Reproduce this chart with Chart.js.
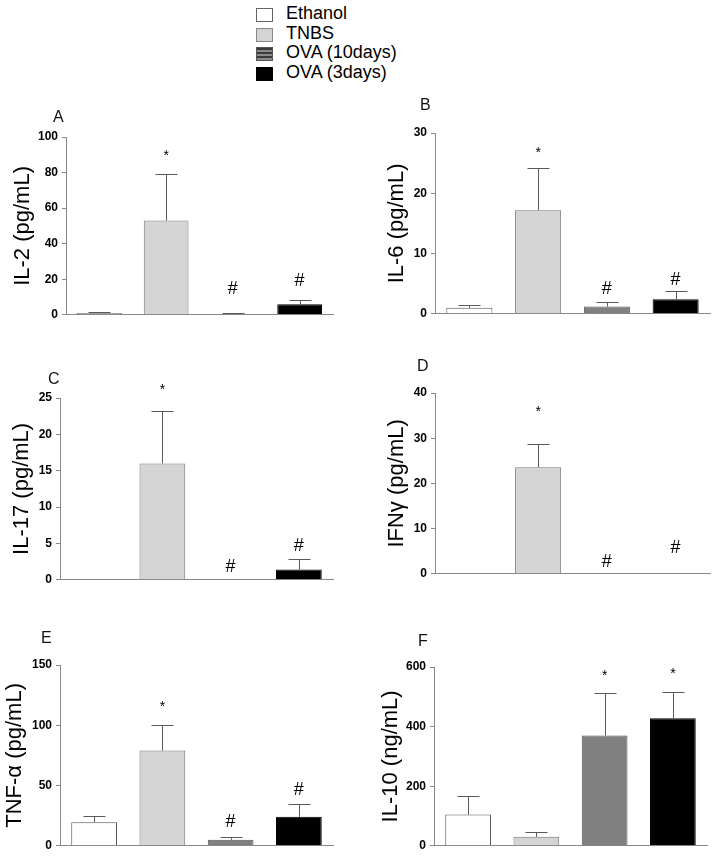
<!DOCTYPE html>
<html>
<head>
<meta charset="utf-8">
<script src="https://cdn.jsdelivr.net/npm/chart.js@4/dist/chart.umd.min.js"></script>
<style>
  body { margin: 0; background: #fff; width: 714px; height: 857px; position: relative; overflow: hidden; font-family: "Liberation Sans", Arial, sans-serif; }
  canvas { position: absolute; }
  .legend { position: absolute; left: 256px; top: 5px; font-size: 18px; color: #000; }
  .row { position: relative; height: 19.5px; line-height: 20px; }
  .sw { position: absolute; left: 0; top: 3px; width: 17px; height: 14px; box-sizing: border-box; }
  .row span.t { position: absolute; left: 30px; top: -2px; white-space: nowrap; }
  .letter { position: absolute; font-size: 16px; color: #111; z-index: 2; }
</style>
</head>
<body>

<div class="legend">
  <div class="row"><div class="sw" style="background:#fff;border:1px solid #666"></div><span class="t">Ethanol</span></div>
  <div class="row"><div class="sw" style="background:#d4d4d4;border:1px solid #888"></div><span class="t">TNBS</span></div>
  <div class="row"><div class="sw" style="background:repeating-linear-gradient(#3a3a3a 0 2px,#8a8a8a 2px 4px);border:1px solid #555"></div><span class="t">OVA (10days)</span></div>
  <div class="row"><div class="sw" style="background:#000"></div><span class="t">OVA (3days)</span></div>
</div>

<div class="letter" style="left:53px;top:108px">A</div>
<div class="letter" style="left:420px;top:96px">B</div>
<div class="letter" style="left:48px;top:370px">C</div>
<div class="letter" style="left:417px;top:357px">D</div>
<div class="letter" style="left:41px;top:629px">E</div>
<div class="letter" style="left:418px;top:632px">F</div>

<canvas id="cA" width="345" height="229" style="left:0;top:97px"></canvas>
<canvas id="cB" width="357" height="232" style="left:357px;top:93px"></canvas>
<canvas id="cC" width="345" height="233" style="left:0;top:358px"></canvas>
<canvas id="cD" width="357" height="232" style="left:357px;top:353px"></canvas>
<canvas id="cE" width="345" height="232" style="left:0;top:625px"></canvas>
<canvas id="cF" width="357" height="230" style="left:357px;top:627px"></canvas>

<script>
// groups
const groups = ['Ethanol', 'TNBS', 'OVA (10days)', 'OVA (3days)'];

// mean values and top of error bar (mean + SEM)
const il2 = [1, 53, 0.5, 6];
const il2Err = [1.5, 79, 0.8, 8.5];
const il2Marks = ['', '*', '#', '#'];
const il2MarkAt = [null, 89, 14.5, 19];

const il6 = [1.0, 17.2, 1.2, 2.4];
const il6Err = [1.5, 24.2, 1.9, 3.8];
const il6Marks = ['', '*', '#', '#'];
const il6MarkAt = [null, 26.7, 4.1, 5.6];

const il17 = [0, 16, 0, 1.4];
const il17Err = [0, 23.2, 0, 2.8];
const il17Marks = ['', '*', '#', '#'];
const il17MarkAt = [null, 26.1, 1.8, 4.6];

const ifng = [0, 23.6, 0, 0];
const ifngErr = [0, 28.8, 0, 0];
const ifngMarks = ['', '*', '#', '#'];
const ifngMarkAt = [null, 35.7, 2.5, 5.6];

const tnfa = [19.5, 79, 5, 24];
const tnfaErr = [25, 100.5, 7.5, 35];
const tnfaMarks = ['', '*', '#', '#'];
const tnfaMarkAt = [null, 115, 20, 46];

const il10 = [105, 30, 370, 428];
const il10Err = [167, 47, 513, 515];
const il10Marks = ['', '', '*', '*'];
const il10MarkAt = [null, null, 570, 577];

const fills = ['#ffffff', '#d4d4d4', '#808080', '#000000'];
const borders = ['#555555', '#777777', '#555555', '#000000'];
const fontFam = '"Liberation Sans", Arial, sans-serif';

// error bars and significance marks
const extras = {
    id: 'extras',
    afterDatasetsDraw(chart, args, opts) {
        let ctx = chart.ctx;
        let y = chart.scales.y;
        let bars = chart.getDatasetMeta(0).data;
        ctx.save();
        ctx.strokeStyle = '#5a5a5a';
        ctx.lineWidth = 1;
        bars.forEach((bar, i) => {
            let top = opts.err[i];
            if (top > chart.data.datasets[0].data[i]) {
                let x = Math.round(bar.x) + 0.5;
                let yt = Math.round(y.getPixelForValue(top)) + 0.5;
                ctx.beginPath();
                ctx.moveTo(x, bar.y);
                ctx.lineTo(x, yt);
                ctx.moveTo(x - 11, yt);
                ctx.lineTo(x + 11, yt);
                ctx.stroke();
            }
            let m = opts.marks[i];
            if (m) {
                ctx.fillStyle = '#000';
                ctx.textAlign = 'center';
                ctx.textBaseline = 'middle';
                ctx.font = (m === '*' ? '14px ' : '18px ') + fontFam;
                ctx.fillText(m, bar.x, y.getPixelForValue(opts.markAt[i]));
            }
        });
        ctx.restore();
    }
};

function crearPanel(id, values, err, marks, markAt, title, max, step, yWidth, rightPad, titlePad) {
    new Chart(document.getElementById(id), {
        type: 'bar',
        data: {
            labels: groups,
            datasets: [{
                data: values,
                backgroundColor: fills,
                borderColor: borders,
                borderWidth: 1,
                borderSkipped: 'bottom',
                categoryPercentage: 1,
                barPercentage: 0.67
            }]
        },
        options: {
            responsive: false,
            animation: false,
            events: [],
            layout: { padding: { top: 40, bottom: 10, left: 0, right: rightPad } },
            plugins: {
                legend: { display: false },
                tooltip: { enabled: false },
                extras: { err: err, marks: marks, markAt: markAt }
            },
            scales: {
                x: {
                    ticks: { display: false },
                    grid: { display: false },
                    border: { display: true, color: '#888', width: 1 },
                    afterFit: (s) => { s.height = 0; }
                },
                y: {
                    min: 0,
                    max: max,
                    ticks: {
                        stepSize: step,
                        color: '#000',
                        padding: 4,
                        font: { family: fontFam, size: 12, weight: 'bold' }
                    },
                    grid: { drawOnChartArea: false, drawTicks: true, tickLength: 4, color: '#888' },
                    border: { display: true, color: '#888', width: 1 },
                    title: {
                        display: true,
                        text: title,
                        color: '#000',
                        padding: { top: titlePad, bottom: 0 },
                        font: { family: fontFam, size: 22 }
                    },
                    afterFit: (s) => { s.width = yWidth; }
                }
            }
        },
        plugins: [extras]
    });
}

window.addEventListener('load', () => {
    crearPanel('cA', il2, il2Err, il2Marks, il2MarkAt, 'IL-2 (pg/mL)', 100, 20, 66, 12, 9.8);
    crearPanel('cB', il6, il6Err, il6Marks, il6MarkAt, 'IL-6 (pg/mL)', 30, 10, 78, 4, 26.8);
    crearPanel('cC', il17, il17Err, il17Marks, il17MarkAt, 'IL-17 (pg/mL)', 25, 5, 60, 12, 8.8);
    crearPanel('cD', ifng, ifngErr, ifngMarks, ifngMarkAt, 'IFNγ (pg/mL)', 40, 10, 78, 4, 26.8);
    crearPanel('cE', tnfa, tnfaErr, tnfaMarks, tnfaMarkAt, 'TNF-α (pg/mL)', 150, 50, 60, 12, 1.8);
    crearPanel('cF', il10, il10Err, il10Marks, il10MarkAt, 'IL-10 (ng/mL)', 600, 200, 77, 7, 20.8);
});
</script>
</body>
</html>
